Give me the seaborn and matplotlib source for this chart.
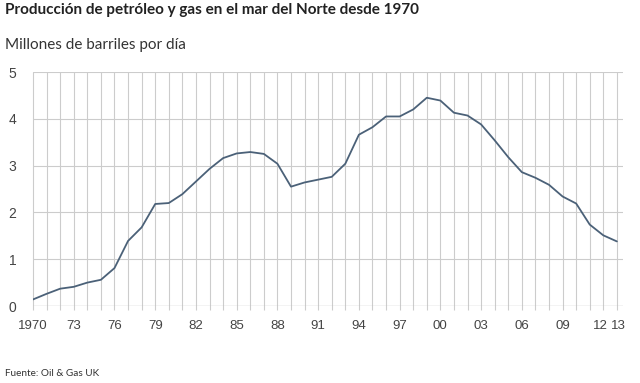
import numpy as np
import pandas as pd
import matplotlib
matplotlib.use('Agg')
import matplotlib.pyplot as plt
import matplotlib.transforms as mtransforms
import seaborn as sns

years = list(range(1970, 2014))
production = [0.14, 0.26, 0.37, 0.41, 0.50, 0.56, 0.81, 1.39, 1.68, 2.18,
              2.20, 2.39, 2.66, 2.93, 3.16, 3.26, 3.29, 3.25, 3.04, 2.55,
              2.64, 2.70, 2.76, 3.04, 3.66, 3.82, 4.05, 4.05, 4.20, 4.45,
              4.39, 4.13, 4.07, 3.88, 3.54, 3.18, 2.86, 2.74, 2.59, 2.34,
              2.19, 1.74, 1.51, 1.38]
label_years = [1970, 1973, 1976, 1979, 1982, 1985, 1988, 1991, 1994, 1997,
               2000, 2003, 2006, 2009, 2012, 2013]
label_text = ['1970', '73', '76', '79', '82', '85', '88', '91', '94', '97',
              '00', '03', '06', '09', '12', '13']

df = pd.DataFrame({'year': years, 'prod': production})

sns.set_style('white')
plt.rcParams['font.family'] = ['Liberation Sans', 'DejaVu Sans']

fig = plt.figure(figsize=(6.4, 3.83), dpi=100)
ax = fig.add_axes([33 / 640, 1 - 306 / 383, (623 - 33) / 640, (306 - 72) / 383])

sns.lineplot(data=df, x='year', y='prod', ax=ax, color='#4b6178', linewidth=1.3, zorder=3)

ax.set_xlim(1970, 2013.45)
ax.set_ylim(0, 5)
ax.set_xticks(label_years)
ax.set_xticklabels(label_text)
ax.set_yticks(range(0, 6))
ax.tick_params(axis='x', length=0, labelsize=9.5, labelcolor='#444444', pad=10)
ax.tick_params(axis='y', length=0, labelsize=10, labelcolor='#444444', pad=12)

# nudge the last two labels apart so "12" and "13" don't collide
xticks = ax.xaxis.get_major_ticks()
for tick, dx in [(xticks[-2], -3), (xticks[-1], 2)]:
    shift = mtransforms.ScaledTranslation(dx / 100, 0, fig.dpi_scale_trans)
    tick.label1.set_transform(tick.label1.get_transform() + shift)

# grid: vertical line every year, running a little below the axis like ticks
ax.vlines(years, -0.09, 5, colors='#cccccc', linewidth=0.8, clip_on=False, zorder=1)
ax.yaxis.grid(True, color='#cccccc', linewidth=0.8)
ax.xaxis.grid(False)
ax.set_axisbelow(True)
for s in ax.spines.values():
    s.set_visible(False)
ax.axhline(0, color='#bbbbbb', linewidth=0.9, zorder=2)
ax.set_xlabel('')
ax.set_ylabel('')

fig.text(5 / 640, 1 - 10 / 383, 'Producción de petróleo y gas en el mar del Norte desde 1970',
         family='Lato', fontweight='bold', fontsize=11, color='#222222', va='center')
fig.text(5 / 640, 1 - 45 / 383, 'Millones de barriles por día',
         family='Lato', fontsize=11, color='#333333', va='center')
fig.text(5 / 640, 1 - 374 / 383, 'Fuente: Oil & Gas UK',
         family='Lato', fontsize=7.2, color='#333333', va='center')

fig.savefig('out.png', dpi=100)
